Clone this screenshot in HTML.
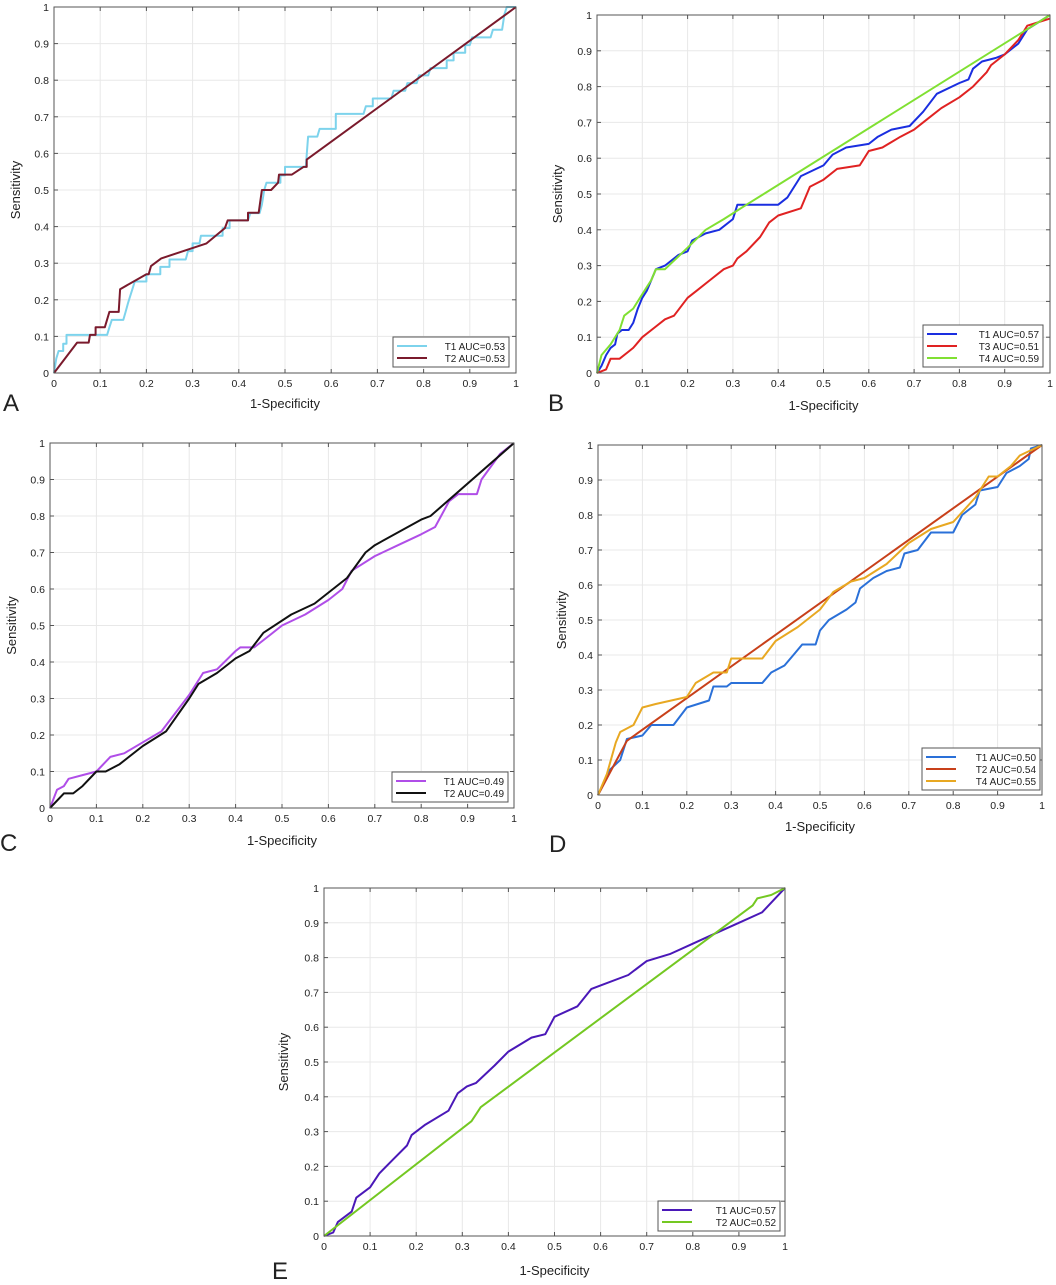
<!DOCTYPE html>
<html><head><meta charset="utf-8">
<style>
html,body{margin:0;padding:0;background:#fff;}
svg text{font-family:"Liberation Sans",sans-serif;fill:#222;}
</style></head>
<body>
<svg id="s" width="1056" height="1280" xmlns="http://www.w3.org/2000/svg"></svg>
<script>
const S=document.getElementById('s');let h='';
function plot(x0,x1,y0,y1,series,leg,letter,lx,ly,ylx,xly){
 const W=x1-x0,H=y1-y0;const X=v=>x0+v*W,Y=v=>y1-v*H;
 for(let i=1;i<10;i++){h+=`<line x1="${X(i/10)}" y1="${y0}" x2="${X(i/10)}" y2="${y1}" stroke="#e8e8e8" stroke-width="1"/>`;
  h+=`<line x1="${x0}" y1="${Y(i/10)}" x2="${x1}" y2="${Y(i/10)}" stroke="#e8e8e8" stroke-width="1"/>`;}
 for(let i=0;i<=10;i++){const v=i/10,l=(i==0?'0':i==10?'1':(v).toFixed(1));
  h+=`<line x1="${X(v)}" y1="${y1}" x2="${X(v)}" y2="${y1-4}" stroke="#555"/><line x1="${X(v)}" y1="${y0}" x2="${X(v)}" y2="${y0+4}" stroke="#555"/>`;
  h+=`<line x1="${x0}" y1="${Y(v)}" x2="${x0+4}" y2="${Y(v)}" stroke="#555"/><line x1="${x1}" y1="${Y(v)}" x2="${x1-4}" y2="${Y(v)}" stroke="#555"/>`;
  h+=`<text x="${X(v)}" y="${y1+14}" font-size="10.5" text-anchor="middle">${l}</text>`;
  h+=`<text x="${x0-5}" y="${Y(v)+4}" font-size="10.5" text-anchor="end">${l}</text>`;}
 for(const s of series){h+=`<polyline fill="none" stroke="${s.c}" stroke-width="2" stroke-linejoin="round" points="${s.p.map(q=>X(q[0]).toFixed(1)+','+Y(q[1]).toFixed(1)).join(' ')}"/>`;}
 h+=`<rect x="${x0}" y="${y0}" width="${W}" height="${H}" fill="none" stroke="#555" stroke-width="1"/>`;
 const [bx,by,bw]=leg;const bh=series.length*12+6;
 h+=`<rect x="${bx}" y="${by}" width="${bw}" height="${bh}" fill="#fff" stroke="#555"/>`;
 series.forEach((s,i)=>{const yy=by+9+i*12;h+=`<line x1="${bx+4}" y1="${yy}" x2="${bx+34}" y2="${yy}" stroke="${s.c}" stroke-width="2"/>`;
  h+=`<text x="${bx+bw-4}" y="${yy+4}" font-size="10" text-anchor="end">${s.n}</text>`;});
 h+=`<text x="${(x0+x1)/2}" y="${xly}" font-size="13" text-anchor="middle">1-Specificity</text>`;
 h+=`<text transform="translate(${ylx},${(y0+y1)/2}) rotate(-90)" font-size="13" text-anchor="middle">Sensitivity</text>`;
 h+=`<text x="${lx}" y="${ly}" font-size="24">${letter}</text>`;
}
plot(54,516,7,373,[
{c:'#7dd3ec',n:'T1 AUC=0.53',p:[[0,0],[0.005,0.04],[0.01,0.06],[0.02,0.06],[0.02,0.08],[0.027,0.08],[0.027,0.104],[0.115,0.104],[0.12,0.125],[0.125,0.145],[0.15,0.145],[0.155,0.167],[0.16,0.19],[0.165,0.21],[0.17,0.23],[0.175,0.25],[0.2,0.25],[0.2,0.27],[0.23,0.27],[0.23,0.29],[0.25,0.29],[0.25,0.31],[0.285,0.31],[0.29,0.333],[0.3,0.333],[0.3,0.354],[0.315,0.354],[0.318,0.375],[0.365,0.375],[0.365,0.396],[0.38,0.396],[0.38,0.417],[0.42,0.417],[0.425,0.437],[0.445,0.437],[0.45,0.46],[0.455,0.5],[0.46,0.52],[0.49,0.52],[0.49,0.54],[0.5,0.54],[0.5,0.563],[0.545,0.563],[0.55,0.646],[0.57,0.646],[0.575,0.667],[0.61,0.667],[0.61,0.708],[0.67,0.708],[0.675,0.729],[0.69,0.729],[0.69,0.75],[0.73,0.75],[0.735,0.771],[0.76,0.771],[0.765,0.792],[0.785,0.792],[0.79,0.813],[0.81,0.813],[0.815,0.833],[0.85,0.833],[0.85,0.854],[0.865,0.854],[0.865,0.875],[0.89,0.875],[0.89,0.896],[0.9,0.896],[0.905,0.917],[0.945,0.917],[0.95,0.938],[0.97,0.938],[0.975,0.98],[0.98,1],[1,1]]},
{c:'#7a1a2c',n:'T2 AUC=0.53',p:[[0,0],[0.05,0.083],[0.075,0.083],[0.078,0.104],[0.09,0.104],[0.09,0.125],[0.11,0.125],[0.12,0.167],[0.14,0.167],[0.143,0.229],[0.2,0.27],[0.205,0.27],[0.21,0.292],[0.232,0.313],[0.33,0.354],[0.37,0.396],[0.376,0.417],[0.42,0.417],[0.42,0.438],[0.443,0.438],[0.45,0.5],[0.47,0.5],[0.485,0.52],[0.487,0.542],[0.515,0.542],[0.54,0.563],[0.547,0.563],[0.547,0.583],[1,1]]}
],[393,337,116],'A',3,411,20,408);
plot(597,1050,15,373,[
{c:'#1a2ee0',n:'T1 AUC=0.57',p:[[0,0],[0.01,0.02],[0.02,0.05],[0.03,0.07],[0.04,0.08],[0.045,0.11],[0.055,0.12],[0.07,0.12],[0.08,0.14],[0.09,0.18],[0.1,0.21],[0.11,0.23],[0.12,0.26],[0.13,0.29],[0.15,0.3],[0.18,0.33],[0.2,0.34],[0.21,0.37],[0.24,0.39],[0.27,0.4],[0.3,0.43],[0.31,0.47],[0.4,0.47],[0.42,0.49],[0.45,0.55],[0.5,0.58],[0.52,0.61],[0.55,0.63],[0.6,0.64],[0.62,0.66],[0.65,0.68],[0.69,0.69],[0.72,0.73],[0.75,0.78],[0.8,0.81],[0.82,0.82],[0.83,0.85],[0.85,0.87],[0.88,0.88],[0.9,0.89],[0.93,0.92],[0.95,0.96],[1,1]]},
{c:'#e02222',n:'T3 AUC=0.51',p:[[0,0],[0.02,0.01],[0.03,0.04],[0.05,0.04],[0.07,0.06],[0.08,0.07],[0.1,0.1],[0.13,0.13],[0.15,0.15],[0.17,0.16],[0.2,0.21],[0.22,0.23],[0.25,0.26],[0.28,0.29],[0.3,0.3],[0.31,0.32],[0.33,0.34],[0.36,0.38],[0.38,0.42],[0.4,0.44],[0.45,0.46],[0.47,0.52],[0.5,0.54],[0.53,0.57],[0.58,0.58],[0.6,0.62],[0.63,0.63],[0.67,0.66],[0.7,0.68],[0.73,0.71],[0.76,0.74],[0.8,0.77],[0.83,0.8],[0.86,0.84],[0.87,0.86],[0.9,0.89],[0.93,0.93],[0.95,0.97],[1,0.99]]},
{c:'#80e032',n:'T4 AUC=0.59',p:[[0,0],[0.01,0.05],[0.03,0.08],[0.05,0.12],[0.06,0.16],[0.08,0.18],[0.1,0.22],[0.12,0.26],[0.13,0.29],[0.15,0.29],[0.2,0.35],[0.24,0.4],[0.28,0.43],[0.33,0.47],[1,1]]}
],[923,325,120],'B',548,411,562,410);
plot(50,514,443,808,[
{c:'#b04ee8',n:'T1 AUC=0.49',p:[[0,0],[0.015,0.05],[0.03,0.06],[0.04,0.08],[0.07,0.09],[0.1,0.1],[0.13,0.14],[0.16,0.15],[0.2,0.18],[0.24,0.21],[0.27,0.26],[0.3,0.31],[0.33,0.37],[0.36,0.38],[0.4,0.43],[0.41,0.44],[0.44,0.44],[0.47,0.47],[0.5,0.5],[0.55,0.53],[0.6,0.57],[0.63,0.6],[0.65,0.65],[0.7,0.69],[0.75,0.72],[0.8,0.75],[0.83,0.77],[0.86,0.84],[0.88,0.86],[0.92,0.86],[0.93,0.9],[0.97,0.97],[1,1]]},
{c:'#111111',n:'T2 AUC=0.49',p:[[0,0],[0.03,0.04],[0.05,0.04],[0.07,0.06],[0.1,0.1],[0.12,0.1],[0.15,0.12],[0.2,0.17],[0.25,0.21],[0.3,0.3],[0.32,0.34],[0.36,0.37],[0.4,0.41],[0.43,0.43],[0.46,0.48],[0.52,0.53],[0.57,0.56],[0.64,0.63],[0.68,0.7],[0.7,0.72],[0.8,0.79],[0.82,0.8],[1,1]]}
],[392,772,116],'C',0,851,16,845);
plot(598,1042,445,795,[
{c:'#2a70d8',n:'T1 AUC=0.50',p:[[0,0],[0.02,0.05],[0.025,0.07],[0.05,0.1],[0.065,0.16],[0.1,0.17],[0.12,0.2],[0.17,0.2],[0.2,0.25],[0.25,0.27],[0.26,0.31],[0.29,0.31],[0.3,0.32],[0.37,0.32],[0.39,0.35],[0.42,0.37],[0.44,0.4],[0.46,0.43],[0.49,0.43],[0.5,0.47],[0.52,0.5],[0.56,0.53],[0.58,0.55],[0.59,0.59],[0.62,0.62],[0.65,0.64],[0.68,0.65],[0.69,0.69],[0.72,0.7],[0.75,0.75],[0.8,0.75],[0.82,0.8],[0.85,0.83],[0.86,0.87],[0.9,0.88],[0.92,0.92],[0.95,0.94],[0.97,0.96],[0.975,0.99],[1,1]]},
{c:'#c8401a',n:'T2 AUC=0.54',p:[[0,0],[0.065,0.155],[1,1]]},
{c:'#e8a822',n:'T4 AUC=0.55',p:[[0,0],[0.02,0.06],[0.04,0.15],[0.05,0.18],[0.08,0.2],[0.1,0.25],[0.13,0.26],[0.2,0.28],[0.22,0.32],[0.26,0.35],[0.29,0.35],[0.3,0.39],[0.37,0.39],[0.4,0.44],[0.45,0.48],[0.5,0.53],[0.53,0.58],[0.57,0.61],[0.6,0.62],[0.65,0.66],[0.7,0.72],[0.75,0.76],[0.8,0.78],[0.85,0.85],[0.88,0.91],[0.9,0.91],[0.93,0.94],[0.95,0.97],[1,1]]}
],[922,748,118],'D',549,852,566,831);
plot(324,785,888,1236,[
{c:'#4a18b8',n:'T1 AUC=0.57',p:[[0,0],[0.02,0.01],[0.03,0.04],[0.06,0.07],[0.07,0.11],[0.1,0.14],[0.12,0.18],[0.15,0.22],[0.18,0.26],[0.19,0.29],[0.22,0.32],[0.27,0.36],[0.29,0.41],[0.31,0.43],[0.33,0.44],[0.37,0.49],[0.4,0.53],[0.45,0.57],[0.48,0.58],[0.5,0.63],[0.55,0.66],[0.58,0.71],[0.6,0.72],[0.66,0.75],[0.7,0.79],[0.75,0.81],[0.8,0.84],[0.85,0.87],[0.9,0.9],[0.95,0.93],[1,1]]},
{c:'#74c822',n:'T2 AUC=0.52',p:[[0,0],[0.32,0.33],[0.34,0.37],[0.93,0.95],[0.94,0.97],[0.97,0.98],[1,1]]}
],[658,1201,122],'E',272,1279,288,1275);
S.innerHTML=h;
</script>
</body></html>
